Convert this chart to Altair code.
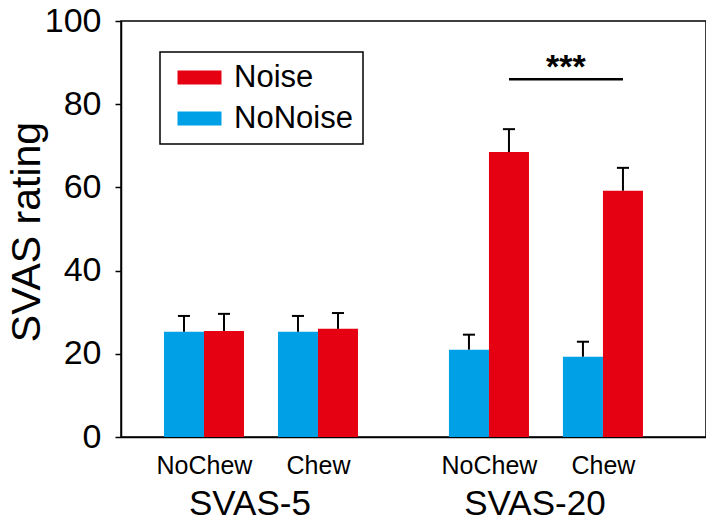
import altair as alt
import pandas as pd

# ---- data ----
groups = ["SVAS-5", "SVAS-5", "SVAS-20", "SVAS-20"]
conditions = ["NoChew", "Chew", "NoChew", "Chew"]
noise_mean = [25.5, 26.0, 68.5, 59.2]
noise_err = [4.1, 3.8, 5.5, 5.5]
nonoise_mean = [25.3, 25.3, 21.0, 19.3]
nonoise_err = [3.8, 3.8, 3.6, 3.6]
series = ["Noise", "NoNoise"]
y_ticks = [0, 20, 40, 60, 80, 100]
sig_label = "***"
sig_level = 86

# ---- layout (not data) ----
group_order = ["SVAS-5", "SVAS-20"]
GROUP_GAP = 0.5
BAR_W = 0.351
CAP_HALF = 0.053
X_DOMAIN = [0.272, 5.404]
FONT = "Liberation Sans"
RED = "#E50012"
BLUE = "#00A0E6"

pos = [i + 1 + GROUP_GAP * group_order.index(g) for i, g in enumerate(groups)]

rows = []
for p, g, c, nm, ne, bm, be in zip(pos, groups, conditions, noise_mean, noise_err, nonoise_mean, nonoise_err):
    rows.append(dict(series="NoNoise", group=g, cond=c, x=p - BAR_W, x2=p, mean=bm,
                     top=bm + be, cx=p - BAR_W / 2))
    rows.append(dict(series="Noise", group=g, cond=c, x=p, x2=p + BAR_W, mean=nm,
                     top=nm + ne, cx=p + BAR_W / 2))
df = pd.DataFrame(rows)
df["c1"] = df["cx"] - CAP_HALF
df["c2"] = df["cx"] + CAP_HALF
df["base"] = 0

label_expr = " : ".join(
    [f"datum.value == {p} ? '{c}'" for p, c in zip(pos, conditions)]
) + " : ''"

xscale = alt.Scale(domain=X_DOMAIN, nice=False, zero=False)
yscale = alt.Scale(domain=[0, 100], nice=False)
xaxis = alt.Axis(values=pos, labelExpr=label_expr, ticks=False, grid=False, title=None,
                 labelFontSize=25, labelPadding=16, labelColor="black", labelFont=FONT,
                 domainColor="black", domainWidth=1.5)
yaxis = alt.Axis(values=y_ticks, tickSize=6, labelFontSize=34, labelPadding=14, grid=False,
                 labelColor="black", labelFont=FONT, title="SVAS rating", titleFontSize=41,
                 titleFont=FONT, titleFontWeight="normal", titleColor="black",
                 titleX=-82, titleY=210.5, titleAlign="center", titleBaseline="alphabetic",
                 titleAngle=270, domainColor="black", tickColor="black", domainWidth=1.5,
                 tickWidth=1.5)

bars = alt.Chart(df).mark_bar().encode(
    x=alt.X("x:Q", scale=xscale, axis=xaxis),
    x2="x2:Q",
    y=alt.Y("mean:Q", scale=yscale, axis=yaxis),
    y2="base:Q",
    color=alt.Color("series:N", scale=alt.Scale(domain=series, range=[RED, BLUE]),
                    legend=alt.Legend(orient="none", legendX=39, legendY=31, title=None,
                                      strokeColor="black", padding=10,
                                      fillColor="white",
                                      symbolType="M-0.571,-0.5H2.571V0.5H-0.571Z",
                                      symbolSize=784,
                                      symbolStrokeWidth=0, symbolOpacity=1,
                                      labelFontSize=31, labelFont=FONT, labelColor="black",
                                      labelOffset=33, rowPadding=9, labelLimit=400)),
)

err = alt.Chart(df).mark_rule(color="black", strokeWidth=2).encode(
    x=alt.X("cx:Q", scale=xscale, axis=xaxis),
    y=alt.Y("mean:Q", scale=yscale, axis=yaxis),
    y2="top:Q",
)
caps = alt.Chart(df).mark_rule(color="black", strokeWidth=2).encode(
    x=alt.X("c1:Q", scale=xscale, axis=xaxis),
    x2="c2:Q",
    y=alt.Y("top:Q", scale=yscale, axis=yaxis),
)

red20 = df[(df["series"] == "Noise") & (df["group"] == "SVAS-20")]["cx"].tolist()
sig_df = pd.DataFrame({"a": [red20[0]], "b": [red20[1]], "y": [sig_level],
                       "m": [(red20[0] + red20[1]) / 2], "t": [sig_label]})
sig_line = alt.Chart(sig_df).mark_rule(color="black", strokeWidth=2.5).encode(
    x=alt.X("a:Q", scale=xscale, axis=xaxis), x2="b:Q",
    y=alt.Y("y:Q", scale=yscale, axis=yaxis),
)
sig_text = alt.Chart(sig_df).mark_text(font=FONT, fontSize=34, fontWeight="bold",
                                       baseline="alphabetic", dy=-1, color="black").encode(
    x=alt.X("m:Q", scale=xscale, axis=xaxis),
    y=alt.Y("y:Q", scale=yscale, axis=yaxis),
    text="t:N",
)

gl = []
for g in group_order:
    ps = [p for p, gg in zip(pos, groups) if gg == g]
    gl.append(dict(g=g, m=(min(ps) + max(ps)) / 2))
gdf = pd.DataFrame(gl)
group_text = alt.Chart(gdf).mark_text(font=FONT, fontSize=35, baseline="alphabetic",
                                      dx=-11, color="black").encode(
    x=alt.X("m:Q", scale=xscale, axis=xaxis),
    y=alt.value(494),
    text="g:N",
)

chart = alt.layer(bars, err, caps, sig_line, sig_text, group_text).properties(
    width=585, height=416,
    background="white",
    autosize=alt.AutoSizeParams(type="none"),
    padding={"left": 113, "top": 13, "right": 0, "bottom": 90},
).configure_view(stroke="black", strokeWidth=1.5).configure_legend(
    strokeWidth=1.5
)

chart.save("out.html", embed_options={"renderer": "svg", "actions": False})
